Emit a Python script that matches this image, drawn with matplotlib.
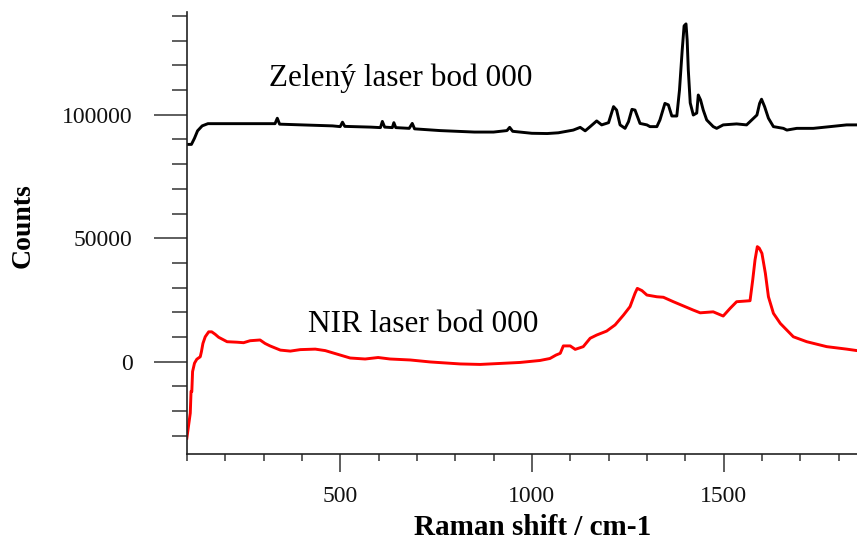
import matplotlib
matplotlib.use("Agg")
import matplotlib.pyplot as plt
from matplotlib.ticker import MultipleLocator

# green laser spectrum (Raman shift cm-1, counts)
green_x = [100, 112, 120, 128, 140, 155, 330, 336, 342, 400, 480, 500, 506, 512,
           580, 605, 610, 616, 636, 640, 645, 680, 688, 694, 760, 850, 900, 935,
           942, 950, 1000, 1040, 1069, 1108, 1126, 1139, 1152, 1169, 1182, 1200,
           1213, 1221, 1230, 1243, 1252, 1261, 1269, 1282, 1300, 1308, 1326, 1334,
           1347, 1356, 1365, 1378, 1385, 1392, 1397, 1402, 1405, 1408, 1413, 1421,
           1430, 1434, 1440, 1447, 1456, 1473, 1482, 1499, 1534, 1560, 1587, 1594,
           1599, 1607, 1617, 1630, 1656, 1665, 1691, 1734, 1778, 1821, 1848]
green_y = [88000, 88000, 90500, 93500, 95500, 96400, 96400, 98600, 96200, 95900,
           95500, 95200, 97000, 95300, 95000, 94800, 97300, 95000, 94800, 96800,
           94800, 94500, 96500, 94300, 93600, 93000, 93000, 93600, 94900, 93300,
           92500, 92400, 92700, 93800, 94900, 93500, 95200, 97500, 95900, 96800,
           103300, 101900, 95900, 94500, 97200, 102200, 101900, 96500, 95900,
           95200, 95200, 97900, 104600, 104000, 99500, 99500, 110000, 126000,
           136000, 136800, 130300, 118100, 104800, 99900, 100700, 108000, 106000,
           101900, 97900, 95200, 94500, 95900, 96300, 95900, 99900, 104600,
           106300, 103300, 98600, 95200, 94500, 93800, 94500, 94500, 95200, 95900,
           95900]

# NIR laser spectrum
nir_x = [100, 109, 111, 113, 115, 120, 126, 135, 138, 142, 148, 157, 165, 174,
         183, 205, 231, 248, 265, 291, 304, 317, 344, 370, 396, 435, 461, 500,
         526, 565, 599, 630, 683, 735, 813, 865, 917, 969, 1021, 1047, 1063,
         1074, 1082, 1100, 1113, 1134, 1152, 1169, 1195, 1217, 1239, 1256, 1269,
         1275, 1287, 1300, 1326, 1343, 1369, 1395, 1421, 1439, 1473, 1499, 1517,
         1534, 1569, 1576, 1582, 1588, 1593, 1600, 1609, 1617, 1630, 1648, 1682,
         1717, 1769, 1821, 1848]
nir_y = [-31000, -20800, -12000, -12100, -4000, -600, 1000, 2000, 4000, 7400,
         10100, 12100, 12100, 11100, 9900, 8100, 7900, 7700, 8500, 8800, 7400,
         6400, 4700, 4300, 4900, 5100, 4500, 2700, 1500, 1100, 1700, 1100, 700,
         -100, -900, -1100, -700, -300, 500, 1300, 2700, 3400, 6400, 6400, 5000,
         6100, 9500, 10800, 12400, 14900, 18900, 22300, 27700, 29700, 28800,
         27000, 26300, 26100, 24300, 22600, 20900, 19800, 20200, 18500, 21600,
         24300, 24700, 33100, 41200, 46600, 46000, 43900, 35800, 26300, 19600,
         15500, 10100, 8100, 6100, 5100, 4500]

labels = ["Zelený laser bod 000", "NIR laser bod 000"]

plt.rcParams["font.family"] = ["Liberation Serif", "DejaVu Serif"]

fig = plt.figure(figsize=(8.57, 5.44), dpi=100)
ax = fig.add_axes([0.218, 0.1654, 0.782, 0.8126])

ax.plot(green_x, green_y, color="black", lw=2.1)
ax.plot(nir_x, nir_y, color="red", lw=2.1)

ax.set_xlim(100, 1848)
ax.set_ylim(-37380, 141630)

for sp in ("top", "right"):
    ax.spines[sp].set_visible(False)
for sp in ("left", "bottom"):
    ax.spines[sp].set_linewidth(1.2)
    ax.spines[sp].set_color("#222222")

ax.xaxis.set_major_locator(MultipleLocator(500))
ax.xaxis.set_minor_locator(MultipleLocator(100))
ax.yaxis.set_major_locator(MultipleLocator(50000))
ax.yaxis.set_minor_locator(MultipleLocator(10000))

ax.tick_params(axis="x", which="major", direction="out", length=13, width=1.1,
               pad=10, labelsize=17, color="#333333", labelcolor="#111111")
ax.tick_params(axis="x", which="minor", direction="out", length=5, width=1.1,
               color="#333333")
ax.tick_params(axis="y", which="major", direction="out", length=24, width=1.1,
               pad=15, labelsize=17, color="#333333", labelcolor="#111111")
ax.tick_params(axis="y", which="minor", direction="out", length=11, width=1.1,
               color="#333333")

fig.text(0.467, 0.842, labels[0], ha="center", va="baseline", fontsize=22.5)
fig.text(0.494, 0.390, labels[1], ha="center", va="baseline", fontsize=22.5)

fig.text(0.621, 0.031, "Raman shift / cm-1", ha="center", va="center",
         fontsize=21, fontweight="bold")
fig.text(0.027, 0.585, "Counts", ha="center", va="center", rotation=90,
         fontsize=20, fontweight="bold")

fig.savefig("out.png", dpi=100)
